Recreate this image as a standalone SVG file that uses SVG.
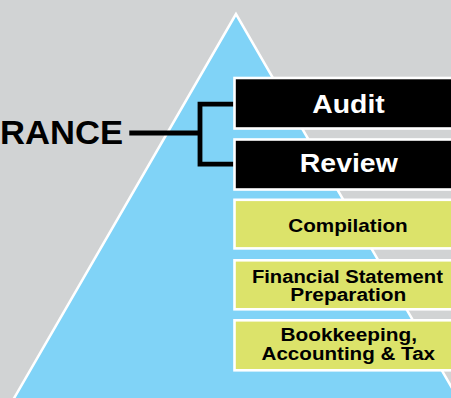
<svg xmlns="http://www.w3.org/2000/svg" width="451" height="398" viewBox="0 0 451 398">
  <style>
    .bg { fill: #d1d3d4; }
    .pyr { fill: #80d3f7; stroke: #ffffff; stroke-width: 2.5; stroke-linejoin: miter; }
    .boxK { fill: #000000; stroke: #ffffff; stroke-width: 2.6; }
    .boxY { fill: #dce36a; stroke: #ffffff; stroke-width: 2.6; }
    .big { font-family: "Liberation Sans", Arial, Helvetica, sans-serif; font-weight: bold; font-size: 25px; fill: #ffffff; text-anchor: middle; }
    .small { font-family: "Liberation Sans", Arial, Helvetica, sans-serif; font-weight: bold; font-size: 18.6px; fill: #000000; text-anchor: middle; }
    .two { font-size: 18px; }
    .lbl { font-family: "Liberation Sans", Arial, Helvetica, sans-serif; font-weight: bold; font-size: 32.5px; fill: #000000; }
    .conn { fill: none; stroke: #000000; stroke-width: 4.8; stroke-linejoin: miter; stroke-linecap: butt; }
  </style>
  <rect class="bg" x="0" y="0" width="451" height="398"/>
  <g id="pyramid">
    <polygon class="pyr" points="236,14 13,400 459,400"/>
  </g>
  <g id="connectors">
    <path class="conn" d="M233.5,104.2 H200 V164.2 H233.5"/>
    <path class="conn" d="M129.3,133 H200"/>
  </g>
  <g id="assurance">
    <text class="lbl" x="0" y="144.3" textLength="123" lengthAdjust="spacingAndGlyphs">RANCE</text>
  </g>
  <g id="audit">
    <rect class="boxK" x="234.5" y="78" width="240" height="50.5"/>
    <text class="big" x="348.5" y="113.3" textLength="72.5" lengthAdjust="spacingAndGlyphs">Audit</text>
  </g>
  <g id="review">
    <rect class="boxK" x="234.5" y="139.5" width="240" height="50"/>
    <text class="big" x="348.8" y="171.7" textLength="98" lengthAdjust="spacingAndGlyphs">Review</text>
  </g>
  <g id="compilation">
    <rect class="boxY" x="234.5" y="199.8" width="240" height="48.6"/>
    <text class="small" x="348" y="231.7" textLength="119.5" lengthAdjust="spacingAndGlyphs">Compilation</text>
  </g>
  <g id="financial-statement-preparation">
    <rect class="boxY" x="234.5" y="260.3" width="240" height="49"/>
    <text class="small two" x="347.4" y="282.7" textLength="191" lengthAdjust="spacingAndGlyphs">Financial Statement</text>
    <text class="small two" x="348.3" y="301.3" textLength="116" lengthAdjust="spacingAndGlyphs">Preparation</text>
  </g>
  <g id="bookkeeping">
    <rect class="boxY" x="234.5" y="320.3" width="240" height="50"/>
    <text class="small two" x="348.7" y="340.7" textLength="136.5" lengthAdjust="spacingAndGlyphs">Bookkeeping,</text>
    <text class="small two" x="348.3" y="360" textLength="173.5" lengthAdjust="spacingAndGlyphs">Accounting &amp; Tax</text>
  </g>
</svg>
